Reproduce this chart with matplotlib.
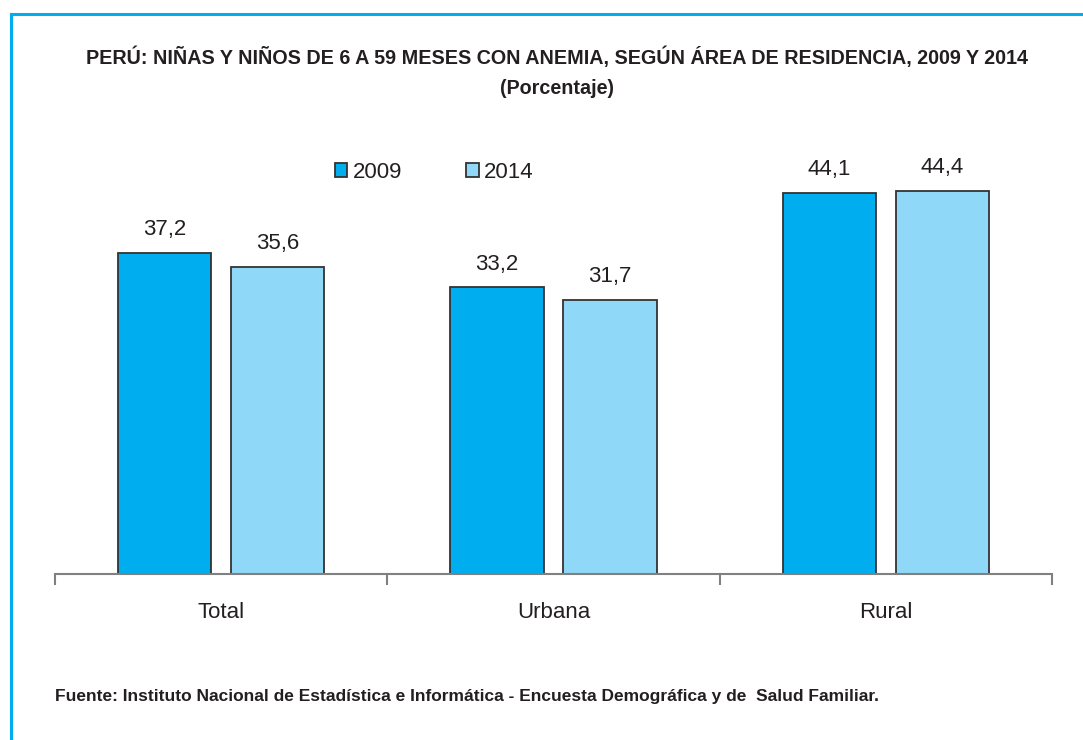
import matplotlib
matplotlib.use('Agg')
import matplotlib.pyplot as plt
import numpy as np

categories = ['Total', 'Urbana', 'Rural']
years = ['2009', '2014']
values_2009 = [37.2, 33.2, 44.1]
values_2014 = [35.6, 31.7, 44.4]

title = 'PERÚ: NIÑAS Y NIÑOS DE 6 A 59 MESES CON ANEMIA, SEGÚN ÁREA DE RESIDENCIA, 2009 Y 2014'
subtitle = '(Porcentaje)'
source = 'Fuente: Instituto Nacional de Estadística e Informática - Encuesta Demográfica y de  Salud Familiar.'

colors = ['#00AEEF', '#8FD8F7']
text_color = '#231F20'
frame_color = '#00AEEF'

plt.rcParams['font.family'] = ['Liberation Sans', 'DejaVu Sans']

W, H = 1083, 740
fig = plt.figure(figsize=(W / 100, H / 100), dpi=100)

# cyan frame on top and left
fig.add_artist(plt.Line2D([11 / W, 1.0], [1 - 14 / H, 1 - 14 / H], color=frame_color, lw=2.2))
fig.add_artist(plt.Line2D([11 / W, 11 / W], [0, 1 - 14 / H], color=frame_color, lw=2.2))

ax = fig.add_axes([55 / W, 166 / H, (1052 - 55) / W, 431.5 / H])
x = np.arange(len(categories))
width = 0.28
offset = 0.17
for vals, yr, col, sign in [(values_2009, years[0], colors[0], -1), (values_2014, years[1], colors[1], 1)]:
    bars = ax.bar(x + sign * offset, vals, width, color=col, edgecolor='#333333', linewidth=1.3, label=yr)
    for b, v in zip(bars, vals):
        ax.text(b.get_x() + b.get_width() / 2, v + 1.5, f'{v:.1f}'.replace('.', ','),
                ha='center', va='bottom', fontsize=16, color=text_color)

ax.set_xlim(-0.5, 2.5)
ax.set_ylim(0, 50)
for s in ['top', 'right', 'left']:
    ax.spines[s].set_visible(False)
ax.spines['bottom'].set_color('#808080')
ax.spines['bottom'].set_linewidth(1.5)
ax.set_yticks([])
ax.set_xticks([-0.5, 0.5, 1.5, 2.5])
ax.set_xticklabels([])
ax.tick_params(axis='x', length=8, width=1.5, color='#808080', direction='out')
for i, c in enumerate(categories):
    ax.text(i, -3.2, c, ha='center', va='top', fontsize=16, color=text_color)

leg = ax.legend(loc='upper left', bbox_to_anchor=(271 / (1052 - 55), 1.0 - (158 - 142.5) / 431.5 + 0.012),
                ncol=2, frameon=False, fontsize=16, handlelength=0.55, handleheight=0.55,
                handletextpad=0.25, columnspacing=2.9, borderaxespad=0)
for t in leg.get_texts():
    t.set_color(text_color)

fig.text(557 / W, 1 - 57 / H, title, ha='center', va='center', fontsize=14.2, fontweight='bold', color=text_color)
fig.text(557 / W, 1 - 88 / H, subtitle, ha='center', va='center', fontsize=14.2, fontweight='bold', color=text_color)
fig.text(55 / W, 1 - 697 / H, source, ha='left', va='center', fontsize=12.5, fontweight='bold', color=text_color)

fig.savefig('out.png', dpi=100)
